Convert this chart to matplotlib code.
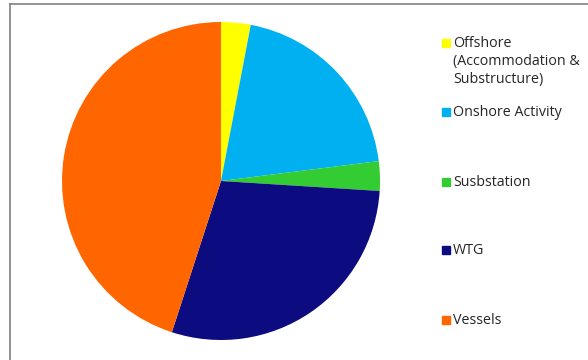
import matplotlib.pyplot as plt
from matplotlib.patches import Rectangle
from matplotlib.lines import Line2D

labels = ["Offshore\n(Accommodation &\nSubstructure)", "Onshore Activity",
          "Susbstation", "WTG", "Vessels"]
values = [3, 20, 3, 29, 45]
colors = ["#FFFF00", "#00B0F0", "#33CC33", "#0C0C80", "#FF6600"]

W, H = 588, 360
fig = plt.figure(figsize=(W/100, H/100), dpi=100)
plt.rcParams['font.family'] = ['Open Sans', 'DejaVu Sans']

# pie center (221,181) px, radius 159 px
cx, cy, r = 221, 181, 159
ax = fig.add_axes([(cx-r)/W, (H-cy-r)/H, 2*r/W, 2*r/H])
ax.pie(values, colors=colors, startangle=90, counterclock=False,
       wedgeprops=dict(linewidth=0))
ax.set_xlim(-1, 1); ax.set_ylim(-1, 1)
ax.set_aspect('equal')
ax.axis('off')

# chart area border (top and left visible)
fig.add_artist(Line2D([10/W, 10/W], [0, 1-4/H], color='#808080', lw=1.2, transform=fig.transFigure))
fig.add_artist(Line2D([10/W, 1], [1-4/H, 1-4/H], color='#808080', lw=1.2, transform=fig.transFigure))

# legend drawn by hand
ys = [43, 112, 182, 250, 320]
for lab, col, y in zip(labels, colors, ys):
    fig.add_artist(Rectangle((442/W, 1-(y+4)/H), 8/W, 8/H, color=col, transform=fig.transFigure))
    fig.text(453/W, 1-(y-7)/H, lab, fontsize=10.3, va='top', ha='left',
             color='#262626', linespacing=1.25)

plt.savefig('out.png', dpi=100)
